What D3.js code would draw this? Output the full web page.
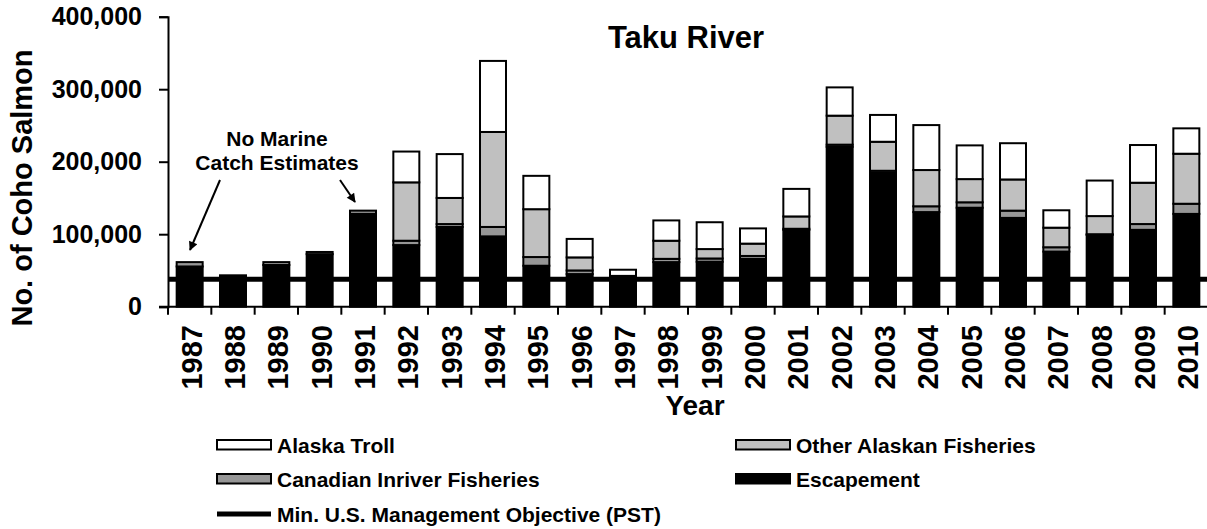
<!DOCTYPE html>
<html>
<head>
<meta charset="utf-8">
<script src="https://cdn.jsdelivr.net/npm/d3@7"></script>
<style>
  body { margin: 0; background: #fff; }
  text { font-family: "Liberation Sans", Arial, sans-serif; font-weight: bold; fill: #000; }
</style>
</head>
<body>
<div id="chart"></div>
<script>
// values in thousands of fish
const years = ["1987","1988","1989","1990","1991","1992","1993","1994","1995","1996","1997","1998",
               "1999","2000","2001","2002","2003","2004","2005","2006","2007","2008","2009","2010"];
const escapement = [55.5, 41.5, 57.5, 72.5, 128, 85, 110, 97, 56.5, 45, 40, 61.5,
                    62, 66, 106, 220.5, 184.5, 130.5, 136.5, 122.5, 76, 99, 106, 128];
const canadianInriver = [6, 1.8, 4, 3, 4.5, 6, 4, 13, 12, 5, 1.5, 4.5,
                         4.5, 4, 1.5, 3, 3, 8, 7.5, 10, 6, 1, 8, 14];
const otherAlaskan = [0, 0, 0, 0, 0, 80.5, 36, 131, 66, 18, 1, 25,
                      13, 17, 17, 40, 40, 50, 32, 43, 27, 25, 57, 69];
const alaskaTroll = [0, 0, 0, 0, 0, 42.5, 60.5, 98, 46, 25.5, 8.5, 28,
                     37, 21, 38, 39, 37, 62, 46.5, 50, 24, 49, 52, 35];
const minObjective = 38000;
const yTicks = [0, 100000, 200000, 300000, 400000];

const seriesNames = ["Escapement", "Canadian Inriver Fisheries", "Other Alaskan Fisheries", "Alaska Troll"];
const seriesColors = ["#000000", "#969696", "#c0c0c0", "#ffffff"];

const width = 1207, height = 529;
const plot = {left: 168, right: 1208, top: 16.7, bottom: 306.7};

const svg = d3.select("#chart").append("svg")
    .attr("width", width)
    .attr("height", height);

// build rows for the stack
const rows = years.map((yr, i) => ({
    year: yr,
    "Escapement": escapement[i] * 1000,
    "Canadian Inriver Fisheries": canadianInriver[i] * 1000,
    "Other Alaskan Fisheries": otherAlaskan[i] * 1000,
    "Alaska Troll": alaskaTroll[i] * 1000
}));
const stacked = d3.stack().keys(seriesNames)(rows);

const x = d3.scaleBand()
    .domain(years)
    .range([plot.left, plot.right])
    .paddingInner(0.4)
    .paddingOuter(0.2);

const y = d3.scaleLinear()
    .domain([0, 400000])
    .range([plot.bottom, plot.top]);

// bars
stacked.forEach((layer, k) => {
    svg.append("g")
        .selectAll("rect")
        .data(layer.filter(d => d[1] - d[0] > 0))
        .join("rect")
            .attr("x", d => x(d.data.year))
            .attr("y", d => y(d[1]))
            .attr("width", x.bandwidth())
            .attr("height", d => y(d[0]) - y(d[1]))
            .attr("fill", seriesColors[k])
            .attr("stroke", "#000")
            .attr("stroke-width", 2);
});

// management objective line
svg.append("line")
    .attr("x1", plot.left)
    .attr("x2", plot.right)
    .attr("y1", y(minObjective))
    .attr("y2", y(minObjective))
    .attr("stroke", "#000")
    .attr("stroke-width", 5);

// y axis
const yAxis = svg.append("g")
    .attr("transform", `translate(${plot.left},0)`)
    .call(d3.axisLeft(y).tickValues(yTicks).tickSize(9).tickPadding(17)
        .tickFormat(d3.format(",")));
yAxis.select(".domain").attr("stroke-width", 2);
yAxis.selectAll(".tick line").attr("stroke-width", 2);
yAxis.selectAll("text")
    .style("font-size", "25px")
    .attr("font-family", null)
    .attr("fill", "#000");

// x axis line with ticks on category boundaries
svg.append("line")
    .attr("x1", plot.left - 9)
    .attr("x2", plot.right)
    .attr("y1", plot.bottom)
    .attr("y2", plot.bottom)
    .attr("stroke", "#000")
    .attr("stroke-width", 2);

svg.append("g")
    .selectAll("line")
    .data(d3.range(years.length + 1))
    .join("line")
        .attr("x1", i => plot.left + i * x.step())
        .attr("x2", i => plot.left + i * x.step())
        .attr("y1", plot.bottom)
        .attr("y2", plot.bottom + 8)
        .attr("stroke", "#000")
        .attr("stroke-width", 2);

svg.append("g")
    .selectAll("text")
    .data(years)
    .join("text")
        .attr("transform", d => `translate(${x(d) + x.bandwidth() / 2 + 2}, 325) rotate(-90)`)
        .attr("text-anchor", "end")
        .attr("dy", "0.35em")
        .style("font-size", "29px")
        .text(d => d);

// title
svg.append("text")
    .attr("x", 686)
    .attr("y", 48)
    .attr("text-anchor", "middle")
    .style("font-size", "31px")
    .text("Taku River");

// axis titles
svg.append("text")
    .attr("x", 695)
    .attr("y", 415)
    .attr("text-anchor", "middle")
    .style("font-size", "28px")
    .text("Year");

svg.append("text")
    .attr("transform", "translate(32, 188) rotate(-90)")
    .attr("text-anchor", "middle")
    .style("font-size", "29px")
    .text("No. of Coho Salmon");

// annotation
svg.append("defs").append("marker")
    .attr("id", "arrow")
    .attr("viewBox", "0 0 10 10")
    .attr("refX", 9)
    .attr("refY", 5)
    .attr("markerWidth", 12)
    .attr("markerHeight", 9)
    .attr("markerUnits", "userSpaceOnUse")
    .attr("orient", "auto")
  .append("path")
    .attr("d", "M0,0L10,5L0,10z")
    .attr("fill", "#000");

svg.append("text")
    .attr("x", 277)
    .attr("y", 145.5)
    .attr("text-anchor", "middle")
    .style("font-size", "21px")
    .text("No Marine");
svg.append("text")
    .attr("x", 277)
    .attr("y", 169.5)
    .attr("text-anchor", "middle")
    .style("font-size", "21px")
    .text("Catch Estimates");

const arrows = [[220, 180, 190, 250], [340, 180, 355, 202]];
svg.append("g")
    .selectAll("line")
    .data(arrows)
    .join("line")
        .attr("x1", d => d[0]).attr("y1", d => d[1])
        .attr("x2", d => d[2]).attr("y2", d => d[3])
        .attr("stroke", "#000")
        .attr("stroke-width", 2)
        .attr("marker-end", "url(#arrow)");

// legend
const legendItems = [
    {name: "Alaska Troll", fill: "#ffffff", x: 217, y: 440},
    {name: "Other Alaskan Fisheries", fill: "#c0c0c0", x: 736, y: 440},
    {name: "Canadian Inriver Fisheries", fill: "#969696", x: 217, y: 474},
    {name: "Escapement", fill: "#000000", x: 736, y: 474}
];
const lg = svg.append("g");
lg.selectAll("rect")
    .data(legendItems)
    .join("rect")
        .attr("x", d => d.x)
        .attr("y", d => d.y)
        .attr("width", 54)
        .attr("height", 9.5)
        .attr("fill", d => d.fill)
        .attr("stroke", "#000")
        .attr("stroke-width", 2);
lg.selectAll("text.item")
    .data(legendItems)
    .join("text")
        .attr("class", "item")
        .attr("x", d => d.x + 60)
        .attr("y", d => d.y + 12.5)
        .style("font-size", "21px")
        .text(d => d.name);

lg.append("line")
    .attr("x1", 217).attr("x2", 271)
    .attr("y1", 514).attr("y2", 514)
    .attr("stroke", "#000")
    .attr("stroke-width", 5);
lg.append("text")
    .attr("x", 277)
    .attr("y", 521.5)
    .style("font-size", "21px")
    .text("Min. U.S. Management Objective (PST)");
</script>
</body>
</html>
